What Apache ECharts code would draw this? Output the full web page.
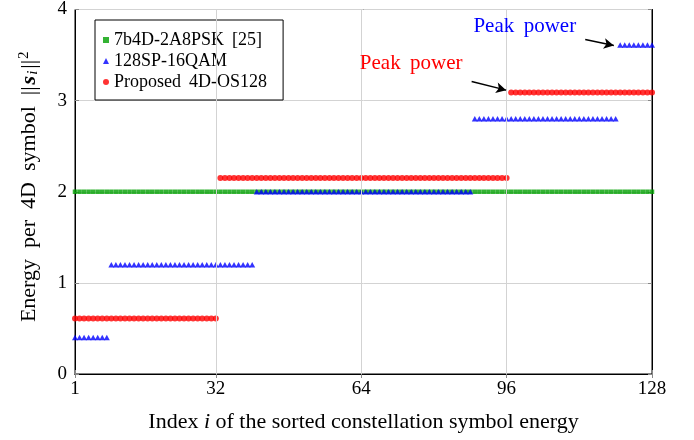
<!DOCTYPE html>
<html><head><meta charset="utf-8">
<script src="https://cdn.jsdelivr.net/npm/echarts@6/dist/echarts.min.js"></script>
<style>html,body{margin:0;padding:0;background:#fff}#c{width:694px;height:440px}</style>
</head><body><div id="c"></div>
<script>
// Segments: [startIndex, endIndex, energy level]
const greenStarts = [1];
const greenEnds = [128];
const greenLevels = [2.0];
const blueStarts = [1, 9, 41, 89, 121];
const blueEnds = [8, 40, 88, 120, 128];
const blueLevels = [0.40, 1.20, 2.00, 2.80, 3.61];
const redStarts = [1, 33, 97];
const redEnds = [32, 96, 128];
const redLevels = [0.61, 2.15, 3.09];
const xTicks = [1, 32, 64, 96, 128];
const xGrid = [32, 64, 96];
const seriesNames = ['7b4D-2A8PSK [25]', '128SP-16QAM', 'Proposed 4D-OS128'];
const redNote = {text: 'Peak power', at: [75, 3.41], arrowFrom: [88.3, 3.21], arrowTo: [95.9, 3.115]};
const blueNote = {text: 'Peak power', at: [100, 3.81], arrowFrom: [113.3, 3.67], arrowTo: [119.6, 3.605]};

function expand(starts, ends, levels) {
  const out = [];
  for (let s = 0; s < starts.length; s++) {
    for (let i = starts[s]; i <= ends[s]; i++) out.push([i, levels[s]]);
  }
  return out;
}
const SP = ' \u2009'; // TeX-like wider interword space
const FONT = '"Liberation Serif", "Times New Roman", serif';
const chart = echarts.init(document.getElementById('c'), null, {renderer: 'canvas'});
function note(n, color) {
  return {
    markPoint: {
      silent: true, symbol: 'circle', symbolSize: 0,
      data: [{coord: n.at, label: {show: true, position: 'inside', formatter: n.text.replace(/ /g, SP), color: color, fontFamily: FONT, fontSize: 21}}]
    },
    markLine: {
      silent: true, symbol: ['none', 'arrow'], symbolSize: [8, 10],
      lineStyle: {color: '#000', width: 1.5, type: 'solid'}, label: {show: false},
      data: [[{coord: n.arrowFrom}, {coord: n.arrowTo}]]
    }
  };
}
const option = {
  animation: false,
  backgroundColor: '#fff',
  grid: {left: 75, right: 42, top: 8, bottom: 66, show: true, borderColor: '#000', borderWidth: 1, backgroundColor: 'transparent'},
  legend: {
    left: 95, top: 20, orient: 'vertical',
    backgroundColor: '#fff', borderColor: '#000', borderWidth: 1,
    padding: [11, 16, 9, 8], itemGap: 3, itemWidth: 6, itemHeight: 6,
    textStyle: {fontFamily: FONT, fontSize: 18, color: '#000'},
    formatter: n => n.replace(/ /g, SP),
    data: seriesNames
  },
  xAxis: [{
    type: 'value', min: 1, max: 128, position: 'bottom',
    name: '{n|Index }{i|i}{n| of the sorted constellation symbol energy}',
    nameLocation: 'middle', nameGap: 37,
    nameTextStyle: {rich: {n: {fontFamily: FONT, fontSize: 22, color: '#000'}, i: {fontFamily: FONT, fontSize: 22, fontStyle: 'italic', color: '#000'}}},
    axisLine: {show: true, lineStyle: {color: '#000'}},
    axisTick: {show: true, inside: true, length: 4, lineStyle: {color: '#888'}, customValues: xTicks},
    axisLabel: {fontFamily: FONT, fontSize: 19, color: '#000', margin: 6, customValues: xTicks, formatter: v => String(v)},
    splitLine: {show: false}
  }, {
    type: 'value', min: 1, max: 128, position: 'top',
    axisLine: {show: true, lineStyle: {color: '#000'}},
    axisTick: {show: true, inside: true, length: 4, lineStyle: {color: '#888'}, customValues: xTicks},
    axisLabel: {show: false}, splitLine: {show: false}
  }],
  yAxis: [{
    type: 'value', min: 0, max: 4, interval: 1, position: 'left',
    name: '{n|Energy  per  4D  symbol  ||}{s|s}{sub|i}{n|||}{sup|2}',
    nameLocation: 'middle', nameGap: 34,
    nameTextStyle: {padding: [0, 0, 0, 10], rich: {
      n: {fontFamily: FONT, fontSize: 22, color: '#000', lineHeight: 24},
      s: {fontFamily: FONT, fontSize: 22, fontStyle: 'italic', fontWeight: 'bold', color: '#000', lineHeight: 24, padding: [0, 1, 0, 2]},
      sub: {fontFamily: FONT, fontSize: 15, fontStyle: 'italic', color: '#000', verticalAlign: 'bottom', lineHeight: 24, padding: [8, 2, 0, 0]},
      sup: {fontFamily: FONT, fontSize: 15, color: '#000', verticalAlign: 'top', lineHeight: 24, padding: [0, 0, 8, 1]}
    }},
    axisLine: {show: true, lineStyle: {color: '#000'}},
    axisTick: {show: true, inside: true, length: 4, lineStyle: {color: '#888'}},
    axisLabel: {fontFamily: FONT, fontSize: 19, color: '#000', margin: 8},
    splitLine: {show: true, lineStyle: {color: '#d3d3d3', width: 1}}
  }, {
    type: 'value', min: 0, max: 4, interval: 1, position: 'right',
    axisLine: {show: true, lineStyle: {color: '#000'}},
    axisTick: {show: true, inside: true, length: 4, lineStyle: {color: '#888'}},
    axisLabel: {show: false}, splitLine: {show: false}
  }],
  series: [
    {
      name: seriesNames[0], type: 'scatter', symbol: 'rect', symbolSize: 4.5,
      itemStyle: {color: '#00a000'}, z: 2,
      data: expand(greenStarts, greenEnds, greenLevels),
      markLine: {
        silent: true, symbol: 'none', label: {show: false},
        lineStyle: {color: '#d3d3d3', width: 1, type: 'solid'},
        data: xGrid.map(v => ({xAxis: v}))
      }
    },
    Object.assign({
      name: seriesNames[1], type: 'scatter', symbol: 'triangle', symbolSize: [6, 5.5],
      itemStyle: {color: '#0000ff'}, z: 3,
      data: expand(blueStarts, blueEnds, blueLevels)
    }, note(blueNote, '#0000ff')),
    Object.assign({
      name: seriesNames[2], type: 'scatter', symbol: 'circle', symbolSize: 6,
      itemStyle: {color: '#ff0000'}, z: 4,
      data: expand(redStarts, redEnds, redLevels)
    }, note(redNote, '#ff0000'))
  ]
};
chart.setOption(option);
</script></body></html>
